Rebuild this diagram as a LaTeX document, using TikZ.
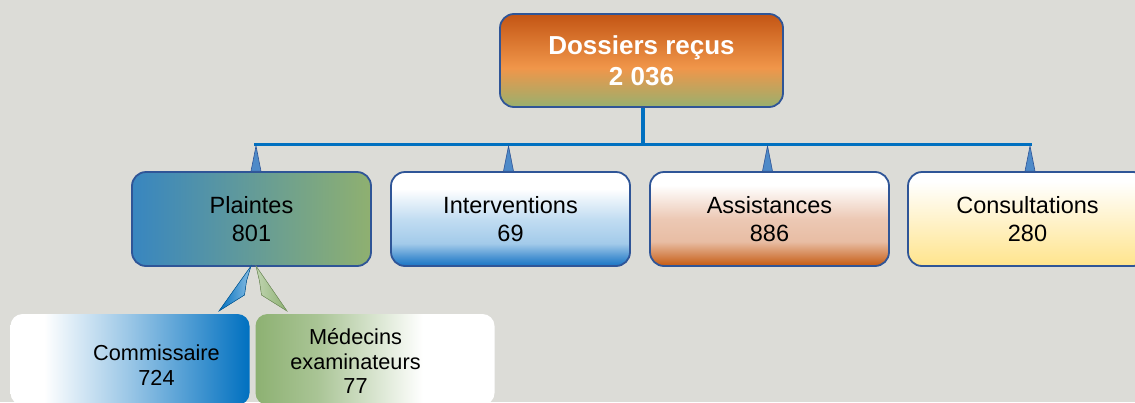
\documentclass[tikz,border=0pt]{standalone}
\usepackage{fontspec}
\setmainfont{Liberation Sans}
\definecolor{bg}{RGB}{220,220,215}
\definecolor{frame}{RGB}{47,85,151}
\definecolor{cblue}{RGB}{0,112,192}
\definecolor{olivec}{RGB}{152,176,110}
\definecolor{lorange}{RGB}{240,150,74}
\definecolor{dorange}{RGB}{195,85,20}
\definecolor{plblue}{RGB}{56,134,192}
\definecolor{plgreen}{RGB}{143,176,112}
\definecolor{ivblue}{RGB}{24,116,196}
\definecolor{ivlight}{RGB}{178,212,238}
\definecolor{asorange}{RGB}{197,90,17}
\definecolor{aslight}{RGB}{236,200,180}
\definecolor{cyellow}{RGB}{255,228,140}
\definecolor{mgreen}{RGB}{141,177,114}
\definecolor{trifill}{RGB}{78,138,200}
\pgfdeclareverticalshading{topsh}{100bp}{color(0bp)=(olivec); color(25bp)=(olivec); color(46bp)=(lorange); color(75bp)=(dorange); color(100bp)=(dorange)}
\pgfdeclareverticalshading{intsh}{100bp}{color(0bp)=(ivblue); color(25bp)=(ivblue); color(30bp)=(ivblue!65!ivlight); color(37bp)=(ivlight!90!ivblue); color(50bp)=(ivlight!80!white); color(66bp)=(white); color(100bp)=(white)}
\pgfdeclareverticalshading{assh}{100bp}{color(0bp)=(asorange); color(25bp)=(asorange); color(30bp)=(asorange!65!aslight); color(38bp)=(aslight!90!asorange); color(50bp)=(aslight); color(68bp)=(white); color(100bp)=(white)}
\pgfdeclareverticalshading{consh}{100bp}{color(0bp)=(cyellow); color(25bp)=(cyellow); color(70bp)=(white); color(100bp)=(white)}
\pgfdeclarehorizontalshading{comsh}{100bp}{color(0bp)=(white); color(25bp)=(white); color(32bp)=(white); color(50bp)=(cblue!40!white); color(75bp)=(cblue); color(100bp)=(cblue)}
\pgfdeclarehorizontalshading{medsh}{100bp}{color(0bp)=(mgreen); color(25bp)=(mgreen); color(38bp)=(mgreen!75!white); color(60bp)=(white); color(100bp)=(white)}
\tikzset{
  midbox/.style={rectangle, rounded corners=14pt, draw=frame, line width=1.8pt,
    minimum width=239pt, minimum height=94pt, inner sep=0pt, align=center,
    font=\fontsize{23.5}{27.5}\selectfont},
  topbox/.style={midbox, minimum width=283pt, minimum height=93pt,
    font=\fontsize{26}{31}\selectfont\bfseries, text=white},
  lowbox/.style={rectangle, rounded corners=12pt, minimum width=239pt, minimum height=91pt, inner sep=0pt},
  lowtext/.style={align=center, inner sep=0pt, font=\fontsize{21.7}{24.6}\selectfont},
  conn/.style={draw=cblue, line width=3.8pt},
  tri/.style={fill=trifill, draw=frame, line width=0.6pt, line join=miter},
}
\begin{document}
\begin{tikzpicture}[x=1pt,y=-1pt]
\fill[bg] (0,0) rectangle (1135,402);
\useasboundingbox (0,0) rectangle (1135,402);
\clip (0,0) rectangle (1135,402);

\node[topbox, shading=topsh] (top) at (641.5,60.5) {Dossiers reçus\\2 036};

\node[midbox, left color=plblue, right color=plgreen] (plaintes) at (251.5,219) {Plaintes\\801};
\node[midbox, shading=intsh] (interv) at (510.5,219) {Interventions\\69};
\node[midbox, shading=assh] (assist) at (769.5,219) {Assistances\\886};
\node[midbox, shading=consh] (consult) at (1027.5,219) {Consultations\\280};

\node[lowbox, shading=comsh] (commis) at (130,359.5) {};
\node[lowbox, shading=medsh] (medec) at (375,359.5) {};
\node[lowtext, anchor=base] (commistxt) at (156.5,360) {Commissaire};
\node[lowtext, anchor=base] (commisnum) at (156.5,385) {724};
\node[lowtext, anchor=base] (medtxt1) at (355.5,344.5) {Médecins};
\node[lowtext, anchor=base] (medtxt2) at (355.5,369) {examinateurs};
\node[lowtext, anchor=base] (medtxt3) at (355.5,393.5) {77};

% bus
\coordinate (bus) at (643,144.5);
\coordinate (tA) at (256,144.5);
\coordinate (tB) at (508.5,144.5);
\coordinate (tC) at (767.5,144.5);
\coordinate (tD) at (1030,144.5);
\draw[conn] (top.south -| bus) -- (bus);
\draw[conn, line cap=rect] (tA) -- (tD);
\foreach \t/\b in {tA/plaintes, tB/interv, tC/assist, tD/consult}{
  \draw[tri] ([yshift=-1.5pt]\t) -- ([xshift=-5pt]\t |- \b.north) -- ([xshift=5pt]\t |- \b.north) -- cycle;
}

% arrows from Plaintes to sub-boxes
\coordinate (pb) at (251,266);
\coordinate (pg) at (256,266);
\fill[left color=cblue, right color=cblue!45!white, draw=cblue!80!black, line width=0.5pt, line join=miter]
  (pb) -- (219,311) -- (244.5,295) -- (246.5,281) -- cycle;
\fill[left color=mgreen!55!white, right color=mgreen, draw=mgreen!85!black, line width=0.5pt, line join=miter]
  (pg) -- (287,311) -- (261.5,295) -- (259.5,281) -- cycle;
\end{tikzpicture}
\end{document}
